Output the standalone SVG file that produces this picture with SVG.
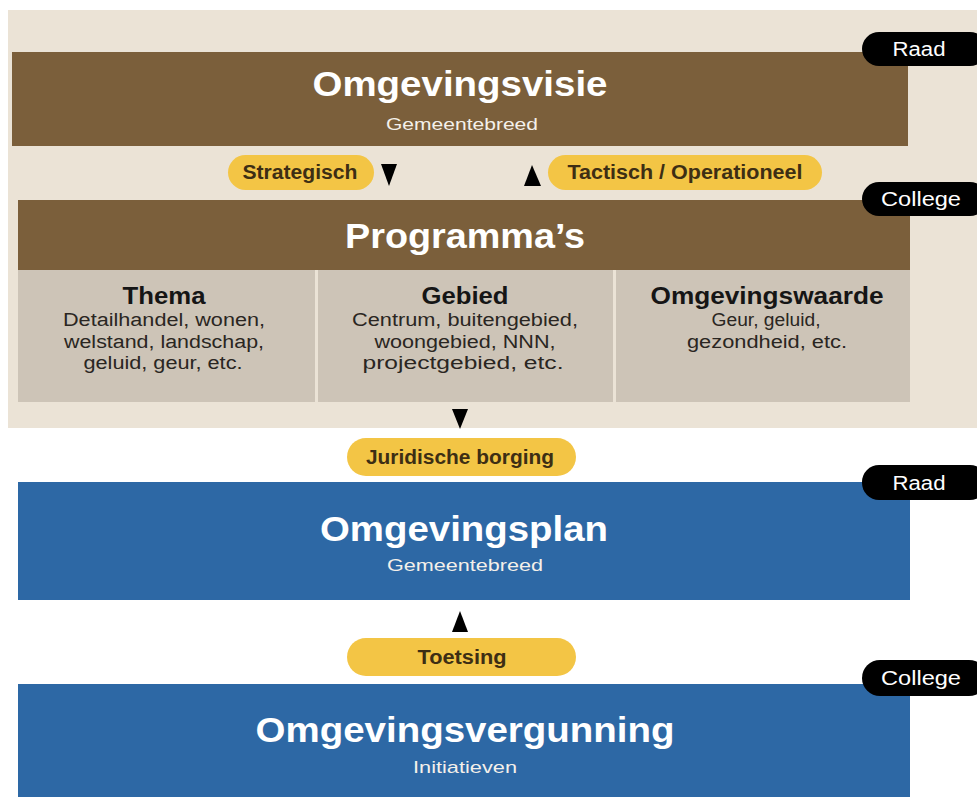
<svg xmlns="http://www.w3.org/2000/svg" width="977" height="797" viewBox="0 0 977 797">
<style>
text{font-family:"Liberation Sans",Arial,sans-serif;text-anchor:middle}
.brown{fill:#7b5f3b}
.blue{fill:#2d68a5}
.cell{fill:#cdc4b7}
.pill{fill:#f3c545}
.tag{fill:#000}
.title{font-size:35px;font-weight:bold;fill:#fff}
.sub{font-size:17px;fill:#f4f0ea}
.pt{font-size:20px;font-weight:bold;fill:#3d2e14}
.tt{font-size:20px;fill:#fff}
.ch{font-size:23px;font-weight:bold;fill:#151515}
.cb{font-size:18px;fill:#2a2622}
.tri{fill:#000}
</style>
<rect width="977" height="797" fill="#fff"/>
<rect x="8" y="10" width="969" height="418" fill="#ebe3d6"/>
<g id="omgevingsvisie">
<rect class="brown" x="12" y="52" width="896" height="94"/>
<text class="title" x="460" y="96" textLength="295" lengthAdjust="spacingAndGlyphs">Omgevingsvisie</text>
<text class="sub" x="462" y="130" textLength="152" lengthAdjust="spacingAndGlyphs">Gemeentebreed</text>
</g>
<g id="raad1"><rect class="tag" x="862" y="32" width="125" height="34" rx="17"/><text class="tt" x="919" y="56" textLength="53" lengthAdjust="spacingAndGlyphs">Raad</text></g>
<g id="strategisch"><rect class="pill" x="228" y="155" width="146" height="35" rx="17.5"/><text class="pt" x="300" y="179" textLength="115" lengthAdjust="spacingAndGlyphs">Strategisch</text></g>
<g id="tactisch"><rect class="pill" x="548" y="155" width="274" height="35" rx="17.5"/><text class="pt" x="685" y="179" textLength="235" lengthAdjust="spacingAndGlyphs">Tactisch / Operationeel</text></g>
<g id="programmas">
<rect class="brown" x="18" y="200" width="892" height="70"/>
<text class="title" x="465" y="248" textLength="240" lengthAdjust="spacingAndGlyphs">Programma’s</text>
</g>
<g id="college1"><rect class="tag" x="862" y="182" width="125" height="34" rx="17"/><text class="tt" x="921" y="206" textLength="80" lengthAdjust="spacingAndGlyphs">College</text></g>
<g id="thema">
<rect class="cell" x="18" y="270" width="297" height="132"/>
<text class="ch" x="164" y="304" textLength="83" lengthAdjust="spacingAndGlyphs">Thema</text>
<text class="cb" x="164" y="326" textLength="202" lengthAdjust="spacingAndGlyphs">Detailhandel, wonen,</text>
<text class="cb" x="164" y="348" textLength="200" lengthAdjust="spacingAndGlyphs">welstand, landschap,</text>
<text class="cb" x="163" y="369" textLength="159" lengthAdjust="spacingAndGlyphs">geluid, geur, etc.</text>
</g>
<g id="gebied">
<rect class="cell" x="318" y="270" width="295" height="132"/>
<text class="ch" x="465" y="304" textLength="87" lengthAdjust="spacingAndGlyphs">Gebied</text>
<text class="cb" x="465" y="326" textLength="226" lengthAdjust="spacingAndGlyphs">Centrum, buitengebied,</text>
<text class="cb" x="465" y="348" textLength="181" lengthAdjust="spacingAndGlyphs">woongebied, NNN,</text>
<text class="cb" x="463" y="369" textLength="201" lengthAdjust="spacingAndGlyphs">projectgebied, etc.</text>
</g>
<g id="omgevingswaarde">
<rect class="cell" x="616" y="270" width="294" height="132"/>
<text class="ch" x="767" y="304" textLength="233" lengthAdjust="spacingAndGlyphs">Omgevingswaarde</text>
<text class="cb" x="766" y="326" textLength="109" lengthAdjust="spacingAndGlyphs">Geur, geluid,</text>
<text class="cb" x="767" y="348" textLength="160" lengthAdjust="spacingAndGlyphs">gezondheid, etc.</text>
</g>
<g id="juridische"><rect class="pill" x="347" y="438" width="229" height="38" rx="19"/><text class="pt" x="460" y="464" textLength="188" lengthAdjust="spacingAndGlyphs">Juridische borging</text></g>
<g id="omgevingsplan">
<rect class="blue" x="18" y="482" width="892" height="118"/>
<text class="title" x="464" y="541" textLength="288" lengthAdjust="spacingAndGlyphs">Omgevingsplan</text>
<text class="sub" x="465" y="571" textLength="156" lengthAdjust="spacingAndGlyphs">Gemeentebreed</text>
</g>
<g id="raad2"><rect class="tag" x="862" y="465" width="125" height="35" rx="17"/><text class="tt" x="919" y="490" textLength="53" lengthAdjust="spacingAndGlyphs">Raad</text></g>
<g id="toetsing"><rect class="pill" x="347" y="638" width="229" height="38" rx="19"/><text class="pt" x="462" y="664" textLength="89" lengthAdjust="spacingAndGlyphs">Toetsing</text></g>
<g id="omgevingsvergunning">
<rect class="blue" x="18" y="684" width="892" height="113"/>
<text class="title" x="465" y="742" textLength="419" lengthAdjust="spacingAndGlyphs">Omgevingsvergunning</text>
<text class="sub" x="465" y="773" textLength="104" lengthAdjust="spacingAndGlyphs">Initiatieven</text>
</g>
<g id="college2"><rect class="tag" x="862" y="660" width="125" height="36" rx="18"/><text class="tt" x="921" y="685" textLength="80" lengthAdjust="spacingAndGlyphs">College</text></g>
<g id="connectors">
<polygon class="tri" points="381,164 397,164 389,186"/>
<polygon class="tri" points="524,186 541,186 532,165"/>
<polygon class="tri" points="452,409 468,409 460,429"/>
<polygon class="tri" points="452,632 468,632 460,611"/>
</g>
</svg>
